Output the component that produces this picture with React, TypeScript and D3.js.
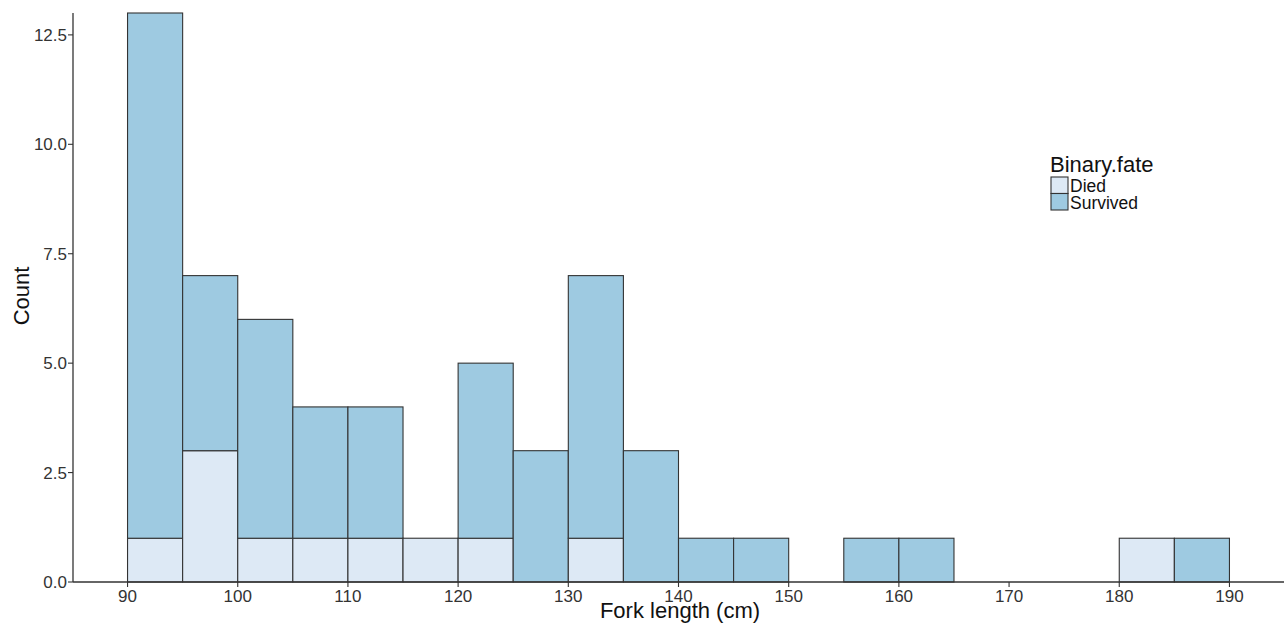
import React from "react";
import * as d3 from "d3";

const binStarts = [90, 95, 100, 105, 110, 115, 120, 125, 130, 135, 140, 145, 150, 155, 160, 165, 170, 175, 180, 185];
const died = [1, 3, 1, 1, 1, 1, 1, 0, 1, 0, 0, 0, 0, 0, 0, 0, 0, 0, 1, 0];
const survived = [12, 4, 5, 3, 3, 0, 4, 3, 6, 3, 1, 1, 0, 1, 1, 0, 0, 0, 0, 1];
const xTicks = [90, 100, 110, 120, 130, 140, 150, 160, 170, 180, 190];
const yTicks = [0, 2.5, 5, 7.5, 10, 12.5];
const binWidth = 5;
const legendLabels = ["Died", "Survived"];
const colors = ["#dde9f5", "#9ecae1"];

export default function App() {
  const W = 1284, H = 628;
  const left = 73, right = 1284, top = 13, bottom = 582;
  const x = d3.scaleLinear().domain([85.05, 194.95]).range([left, right]);
  const y = d3.scaleLinear().domain([0, 13]).range([bottom, top]);
  const font = "'Liberation Sans', Arial, sans-serif";
  const stroke = "#333";

  const rects: JSX.Element[] = [];
  binStarts.forEach((b, i) => {
    const x0 = x(b), x1 = x(b + binWidth);
    if (died[i] > 0) {
      rects.push(<rect key={"d" + i} x={x0} y={y(died[i])} width={x1 - x0} height={y(0) - y(died[i])} fill={colors[0]} stroke={stroke} strokeWidth={1.1} />);
    }
    if (survived[i] > 0) {
      const t = died[i] + survived[i];
      rects.push(<rect key={"s" + i} x={x0} y={y(t)} width={x1 - x0} height={y(died[i]) - y(t)} fill={colors[1]} stroke={stroke} strokeWidth={1.1} />);
    }
  });

  return (
    <svg width={W} height={H} style={{ position: "absolute", left: 0, top: 0, background: "#fff" }} fontFamily={font}>
      {rects}
      <line x1={left} x2={right} y1={bottom} y2={bottom} stroke={stroke} strokeWidth={1.3} />
      <line x1={left} x2={left} y1={top} y2={bottom} stroke={stroke} strokeWidth={1.3} />
      {xTicks.map(t => (
        <g key={"xt" + t}>
          <line x1={x(t)} x2={x(t)} y1={bottom} y2={bottom + 5} stroke={stroke} strokeWidth={1.1} />
          <text x={x(t)} y={602} textAnchor="middle" fontSize={17} fill="#333">{t}</text>
        </g>
      ))}
      {yTicks.map(t => (
        <g key={"yt" + t}>
          <line x1={left - 5} x2={left} y1={y(t)} y2={y(t)} stroke={stroke} strokeWidth={1.1} />
          <text x={left - 6} y={y(t) + 6} textAnchor="end" fontSize={17} fill="#333">{t.toFixed(1)}</text>
        </g>
      ))}
      <text x={680} y={618} textAnchor="middle" fontSize={22} fill="#111">Fork length (cm)</text>
      <text transform={`translate(29, 296) rotate(-90)`} textAnchor="middle" fontSize={22} fill="#111">Count</text>
      <g>
        <text x={1050} y={172} fontSize={22} fill="#111">Binary.fate</text>
        {legendLabels.map((l, i) => (
          <g key={l}>
            <rect x={1051} y={177 + i * 16.5} width={17} height={16.5} fill={colors[i]} stroke={stroke} strokeWidth={1.1} />
            <text x={1070} y={192 + i * 17} fontSize={17.5} fill="#111">{l}</text>
          </g>
        ))}
      </g>
    </svg>
  );
}
